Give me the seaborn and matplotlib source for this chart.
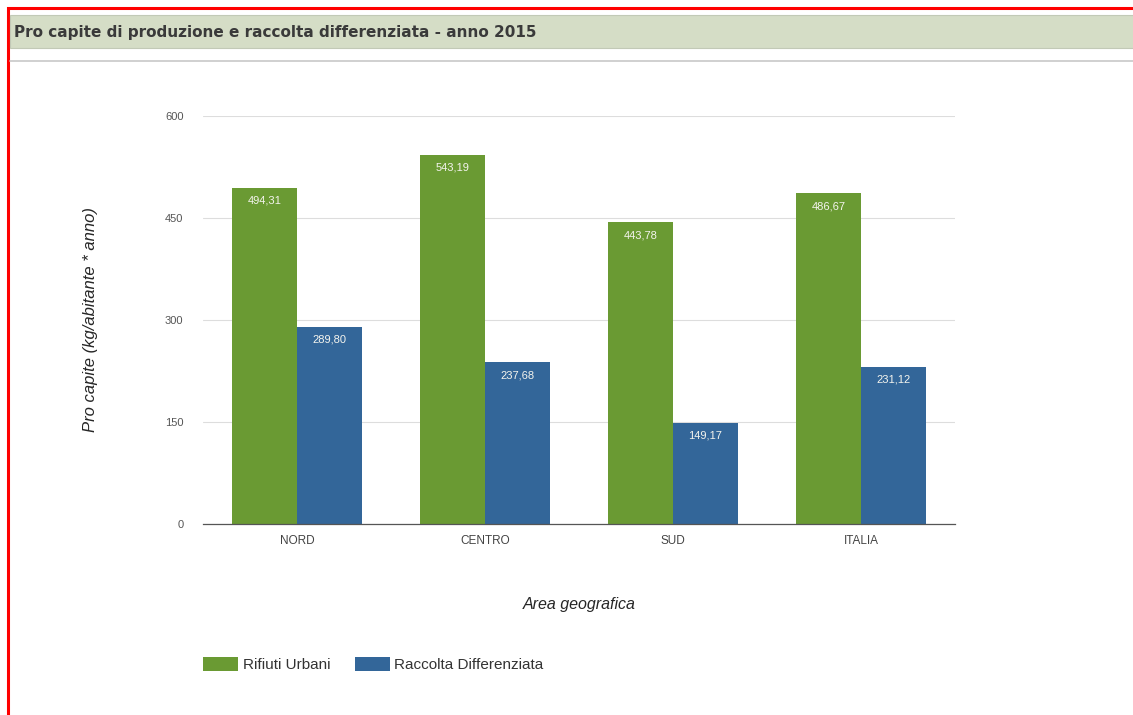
"""
Pro capite di produzione e raccolta differenziata - anno 2015
"""
import matplotlib
matplotlib.use('Agg')
import matplotlib.pyplot as plt
import matplotlib.patches as mpatches
import pandas as pd
import seaborn as sns

areas = ['NORD', 'CENTRO', 'SUD', 'ITALIA']
rifiuti_urbani = [494.31, 543.19, 443.78, 486.67]
raccolta_differenziata = [289.80, 237.68, 149.17, 231.12]
series_names = ['Rifiuti Urbani', 'Raccolta Differenziata']
y_ticks = [0, 150, 300, 450, 600]

GREEN = '#6a9a33'
BLUE = '#336699'

sns.set_style('white')
plt.rcParams['font.family'] = ['Liberation Sans', 'DejaVu Sans']

data = pd.DataFrame({
    'area': areas * 2,
    'value': rifiuti_urbani + raccolta_differenziata,
    'serie': [series_names[0]] * 4 + [series_names[1]] * 4,
})

fig = plt.figure(figsize=(11.33, 7.15), dpi=100)

# frame + title bar (frame runs off the bottom/right of the screenshot)
fig.patches.append(mpatches.Rectangle((8 / 1133, -0.1), 1, 1.1 - 8 / 715, transform=fig.transFigure,
                                      facecolor='none', edgecolor='#ff0000', linewidth=2.2))
fig.patches.append(mpatches.Rectangle((10 / 1133, 1 - 48 / 715), 1, 33 / 715, transform=fig.transFigure,
                                      facecolor='#d5ddc6', edgecolor='#c2c9b6', linewidth=0.8))
fig.add_artist(plt.Line2D([10 / 1133, 1], [1 - 61 / 715] * 2, transform=fig.transFigure,
                          color='#c8c8c8', linewidth=1.2))
fig.text(14 / 1133, 1 - 33 / 715, 'Pro capite di produzione e raccolta differenziata - anno 2015',
         family='DejaVu Sans', fontsize=11, fontweight='bold', color='#3a3a3a', va='center')

ax = fig.add_axes([203 / 1133, 1 - 524 / 715, 752 / 1133, 408 / 715])
sns.barplot(data=data, x='area', y='value', hue='serie', palette=[GREEN, BLUE],
            width=0.69, saturation=1, linewidth=0, ax=ax, legend=True)

for container in ax.containers:
    ax.bar_label(container, labels=['{:.2f}'.format(v.get_height()).replace('.', ',') for v in container],
                 padding=-13, color='#f4f4ee', fontsize=8)

ax.set_ylim(0, 600)
ax.set_yticks(y_ticks)
ax.set_yticklabels([str(t) for t in y_ticks], fontsize=8, color='#555555')
ax.tick_params(axis='y', length=0, pad=14)
ax.tick_params(axis='x', length=0, pad=8, labelsize=8.5, labelcolor='#444444')
ax.yaxis.grid(True, color='#dddddd', linewidth=0.8)
ax.set_axisbelow(True)
for s in ['top', 'right', 'left']:
    ax.spines[s].set_visible(False)
ax.spines['bottom'].set_color('#555555')
ax.spines['bottom'].set_linewidth(0.9)

ax.set_xlabel('Area geografica', fontsize=11.5, style='italic', labelpad=36)
ax.set_ylabel('Pro capite (kg/abitante * anno)', fontsize=12, style='italic', labelpad=48)

leg = ax.legend(loc='upper left', bbox_to_anchor=(0, -0.325), ncol=2, frameon=False, fontsize=11,
                handlelength=2.3, handleheight=1.1, handletextpad=0.3, columnspacing=1.6,
                borderaxespad=0, borderpad=0)
for t in leg.get_texts():
    t.set_color('#333333')

fig.savefig('out.png', dpi=100, facecolor='white')
